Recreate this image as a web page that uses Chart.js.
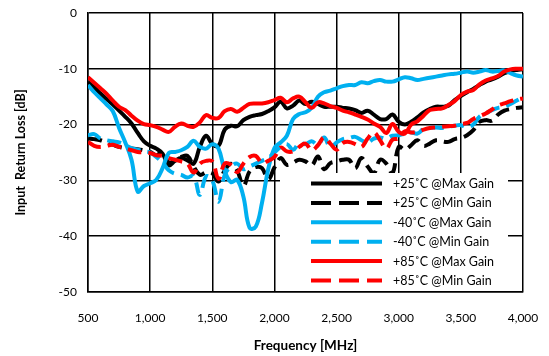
<!DOCTYPE html>
<html>
<head>
<meta charset="utf-8">
<script src="https://cdn.jsdelivr.net/npm/chart.js@4.4.1/dist/chart.umd.min.js"></script>
<style>
  html, body { margin: 0; padding: 0; background: #fff; }
  #wrap { width: 549px; height: 356px; }
</style>
</head>
<body>
<div id="wrap"><canvas id="c" width="549" height="356"></canvas></div>
<script>
// Frequency sweep points (MHz)
const frequencies = [
  500, 550, 600, 650, 700, 750, 800, 850, 900, 950,
  1000, 1050, 1100, 1150, 1200, 1250, 1300, 1350, 1400, 1450,
  1500, 1550, 1600, 1650, 1700, 1750, 1800, 1850, 1900, 1950,
  2000, 2050, 2100, 2150, 2200, 2250, 2300, 2350, 2400, 2450,
  2500, 2550, 2600, 2650, 2700, 2750, 2800, 2850, 2900, 2950,
  3000, 3050, 3100, 3150, 3200, 3250, 3300, 3350, 3400, 3450,
  3500, 3550, 3600, 3650, 3700, 3750, 3800, 3850, 3900, 3950,
  4000
];

// Input return loss (dB) per temperature / gain setting
const rl25Max = [
  -12.3, -13.3, -14.4, -15.4, -16.4, -17.5, -18.6, -19.8, -21.5, -23.0,
  -23.8, -24.3, -25.2, -27.3, -26.5, -26.0, -26.4, -27.0, -24.0, -22.0,
  -23.5, -23.8, -20.9, -20.2, -20.3, -19.2, -18.6, -18.3, -18.1, -17.6,
  -16.9, -15.9, -17.1, -16.6, -15.7, -16.3, -15.9, -16.3, -16.8, -16.8,
  -16.8, -17.0, -17.1, -17.4, -17.9, -17.5, -18.2, -19.0, -19.0, -18.2,
  -19.5, -20.0, -19.5, -18.7, -17.8, -17.2, -16.8, -16.8, -16.6, -15.6,
  -14.9, -14.2, -13.6, -12.9, -12.3, -11.9, -11.4, -10.8, -10.4, -10.2,
  -10.1
];
const rl25Min = [
  -22.5, -22.6, -22.8, -23.2, -23.6, -24.0, -24.2, -24.3, -24.4, -24.6,
  -24.9, -25.5, -24.8, -26.8, -26.4, -25.8, -25.6, -27.5, -29.0, -28.6,
  -28.7, -30.2, -28.2, -27.0, -28.2, -31.0, -28.4, -27.6, -27.8, -29.8,
  -27.7, -26.0, -27.2, -26.8, -26.3, -26.6, -27.3, -25.7, -28.0, -26.9,
  -26.6, -26.3, -26.3, -27.8, -26.0, -27.5, -28.7, -26.3, -27.0, -28.7,
  -24.0, -24.5, -23.7, -22.8, -23.8, -23.4, -22.8, -23.0, -23.1, -22.6,
  -22.4, -21.9, -21.0, -19.5, -19.2, -19.3, -18.2, -17.5, -17.2, -17.0,
  -16.9
];
const rlM40Max = [
  -12.9, -14.2, -15.3, -16.4, -17.6, -20.6, -23.2, -26.3, -32.0, -31.0,
  -30.5, -29.9, -27.8, -25.1, -24.9, -24.6, -24.0, -22.9, -24.0, -24.3,
  -23.5, -24.3, -28.3, -30.3, -29.9, -32.9, -38.5, -38.3, -34.0, -28.0,
  -24.2, -23.2, -22.0, -19.0, -18.1, -17.8, -17.0, -15.0, -14.2, -13.9,
  -13.5, -13.1, -12.9, -12.9, -12.4, -12.6, -12.2, -12.0, -12.3, -12.3,
  -11.9, -11.5, -11.7, -12.0, -11.8, -11.6, -11.4, -11.2, -11.0, -10.9,
  -10.7, -10.5, -10.7, -10.5, -10.2, -10.5, -10.4, -10.3, -10.8, -11.2,
  -11.4
];
const rlM40Min = [
  -21.9, -21.7, -22.5, -22.8, -23.0, -23.2, -23.7, -24.2, -24.5, -24.8,
  -25.0, -25.8, -26.8, -28.2, -28.8, -29.0, -29.5, -29.2, -32.6, -29.3,
  -30.0, -33.8, -29.0, -27.5, -27.0, -28.0, -27.5, -27.0, -26.5, -26.0,
  -25.0, -24.0, -23.5, -24.5, -23.3, -23.5, -23.0, -23.6, -22.3, -24.1,
  -23.2, -22.6, -22.4, -22.2, -22.8, -23.2, -22.5, -22.3, -22.5, -22.0,
  -21.9, -21.6, -21.4, -21.6, -20.8, -20.6, -20.5, -20.6, -20.4, -20.2,
  -20.1, -20.5, -20.0, -18.6, -18.0, -17.4, -17.0, -16.8, -16.3, -15.7,
  -15.1
];
const rl85Max = [
  -11.5, -12.5, -13.5, -14.5, -15.7, -16.8, -17.4, -18.4, -19.3, -19.9,
  -20.1, -20.4, -20.9, -21.3, -20.4, -19.8, -20.2, -20.4, -19.6, -18.3,
  -18.8, -18.8, -17.6, -17.2, -17.7, -17.0, -16.3, -16.2, -16.2, -16.0,
  -15.6, -15.2, -16.0, -15.3, -15.0, -16.0, -17.0, -16.0, -16.2, -16.7,
  -17.0, -17.5, -17.8, -18.2, -18.6, -19.1, -19.8, -20.4, -21.5, -19.9,
  -21.3, -21.6, -20.0, -19.4, -18.4, -17.4, -17.2, -17.1, -16.5, -15.8,
  -14.7, -14.1, -13.8, -12.8, -12.1, -11.7, -11.3, -10.5, -10.1, -10.0,
  -10.0
];
const rl85Min = [
  -23.1, -23.8, -24.0, -23.8, -23.6, -24.0, -24.3, -24.6, -24.9, -25.0,
  -25.1, -25.5, -25.6, -26.0, -26.3, -26.6, -27.0, -28.6, -27.0, -26.5,
  -26.6, -29.7, -27.0, -27.2, -28.5, -27.0, -25.8, -25.6, -26.9, -26.5,
  -25.8, -24.1, -24.8, -24.8, -24.0, -23.4, -24.6, -23.7, -22.3, -23.4,
  -24.5, -23.3, -23.1, -23.5, -24.0, -22.5, -21.4, -22.8, -24.3, -22.7,
  -22.5, -21.2, -21.4, -21.3, -20.9, -20.6, -20.5, -20.4, -20.3, -20.2,
  -19.9, -19.7, -19.0, -18.5, -18.0, -17.3, -16.6, -16.2, -15.8, -15.5,
  -15.3
];

const seriesLabels = [
  '+25˚C @Max Gain', '+25˚C @Min Gain',
  '-40˚C @Max Gain', '-40˚C @Min Gain',
  '+85˚C @Max Gain', '+85˚C @Min Gain'
];

const BLACK = '#000000', BLUE = '#00B0F0', RED = '#FF0000';
const FONT = 'Lato, "Open Sans", sans-serif';

function pts(values) {
  return frequencies.map((f, i) => ({ x: f, y: values[i] }));
}

function series(label, values, color, dashed, order) {
  return {
    label,
    data: pts(values),
    borderColor: color,
    backgroundColor: color,
    borderWidth: 4,
    borderDash: dashed ? [14, 7] : [],
    pointRadius: 0,
    tension: 0.4,
    fill: false,
    order,
    dashedLegend: dashed
  };
}

// Legend drawn as an opaque box inside the lower right of the plot area
const insideLegend = {
  id: 'insideLegend',
  afterDatasetsDraw(chart) {
    const ctx = chart.ctx;
    const ca = chart.chartArea;
    const boxLeft = ca.left + 192;
    const boxRight = ca.left + 420;
    const boxTop = ca.top + 160;
    const boxBottom = ca.bottom - 1;
    ctx.save();
    ctx.fillStyle = '#ffffff';
    ctx.fillRect(boxLeft, boxTop, boxRight - boxLeft, boxBottom - boxTop);
    ctx.font = '12.5px ' + FONT;
    ctx.textBaseline = 'middle';
    ctx.textAlign = 'left';
    chart.data.datasets.forEach((ds, i) => {
      const y = boxTop + 10.5 + i * 19.4;
      ctx.beginPath();
      ctx.strokeStyle = ds.borderColor;
      ctx.lineWidth = 4;
      ctx.lineCap = 'butt';
      ctx.setLineDash(ds.dashedLegend ? [20, 8] : []);
      ctx.moveTo(boxLeft + 31, y);
      ctx.lineTo(boxLeft + 102, y);
      ctx.stroke();
      ctx.setLineDash([]);
      ctx.fillStyle = '#000';
      ctx.fillText(ds.label, boxLeft + 113, y + 0.5);
    });
    ctx.restore();
  }
};

new Chart(document.getElementById('c'), {
  type: 'line',
  data: {
    datasets: [
      series(seriesLabels[0], rl25Max, BLACK, false, 6),
      series(seriesLabels[1], rl25Min, BLACK, true, 5),
      series(seriesLabels[2], rlM40Max, BLUE, false, 4),
      series(seriesLabels[3], rlM40Min, BLUE, true, 3),
      series(seriesLabels[4], rl85Max, RED, false, 2),
      series(seriesLabels[5], rl85Min, RED, true, 1)
    ]
  },
  options: {
    responsive: false,
    animation: false,
    devicePixelRatio: 1,
    layout: { padding: { top: 13, right: 26, left: 0, bottom: 0 } },
    plugins: {
      legend: { display: false },
      tooltip: { enabled: false }
    },
    scales: {
      x: {
        type: 'linear',
        min: 500,
        max: 4000,
        afterFit(scale) {
          scale.height = 64;
          scale.paddingLeft = 0;
          scale.paddingRight = 0;
        },
        grid: { color: '#000', lineWidth: 1.5, drawTicks: false },
        border: { color: '#000', width: 1.5 },
        ticks: {
          stepSize: 500,
          padding: 19,
          color: '#000',
          font: { family: FONT, size: 12 },
          maxRotation: 0,
          callback: (v) => v.toLocaleString('en-US')
        },
        title: {
          display: true,
          text: 'Frequency [MHz]',
          color: '#000',
          font: { family: FONT, size: 13.5, weight: 'bold' },
          padding: { top: 0, bottom: 2 }
        }
      },
      y: {
        min: -50,
        max: 0,
        afterFit(scale) {
          scale.width = 88;
          scale.paddingTop = 0;
          scale.paddingBottom = 0;
        },
        grid: { color: '#000', lineWidth: 1.5, drawTicks: false },
        border: { color: '#000', width: 1.5 },
        ticks: {
          stepSize: 10,
          padding: 11,
          color: '#000',
          font: { family: FONT, size: 12 }
        },
        title: {
          display: true,
          text: 'Input  Return Loss [dB]',
          color: '#000',
          font: { family: FONT, size: 12.5, weight: 'bold' },
          padding: { top: 13, bottom: 0 }
        }
      }
    }
  },
  plugins: [insideLegend]
});
</script>
</body>
</html>
